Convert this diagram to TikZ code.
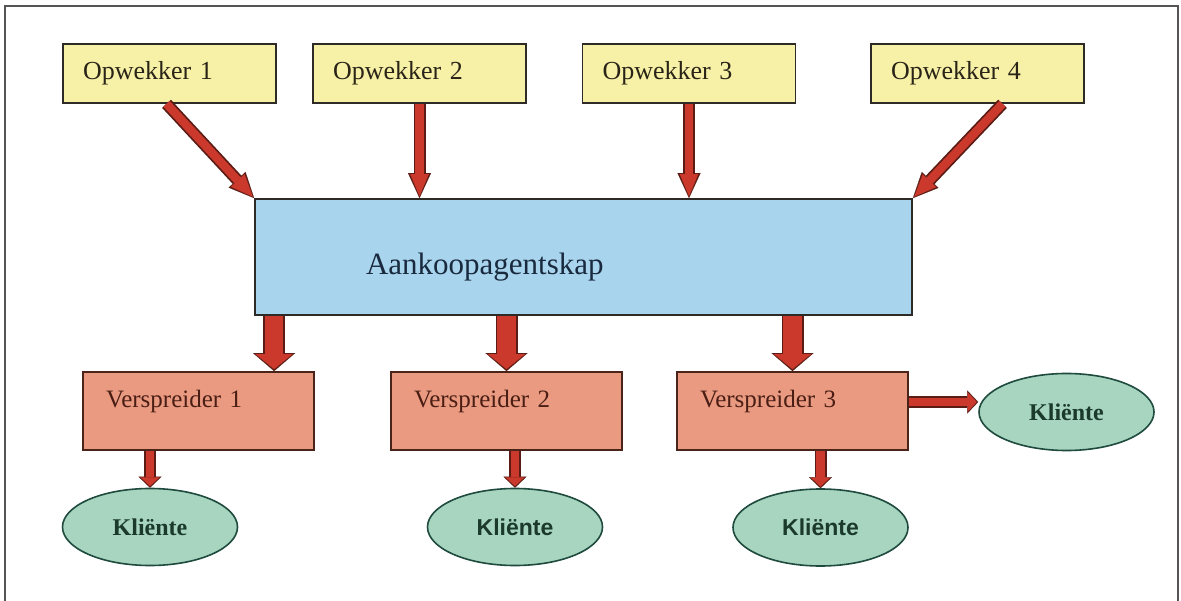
\documentclass[tikz,border=0pt]{standalone}
\usepackage{fontspec}
\setmainfont{Liberation Serif}
\newfontfamily\klsansfont{Liberation Sans}
\usetikzlibrary{arrows.meta,positioning,shapes.geometric}
\definecolor{opyellow}{HTML}{F6F1A6}
\definecolor{agblue}{HTML}{A9D4EE}
\definecolor{vsalmon}{HTML}{EA9A80}
\definecolor{klgreen}{HTML}{A7D5C0}
\definecolor{kldark}{HTML}{1F4A3E}
\definecolor{boxline}{HTML}{2E2A26}
\definecolor{vline}{HTML}{4A2418}
\definecolor{arrowred}{HTML}{CB392C}
\definecolor{arrowdark}{HTML}{5A1C14}
\definecolor{framegray}{HTML}{555555}
\definecolor{optext}{HTML}{2A2418}
\definecolor{agtext}{HTML}{1A2A3E}
\definecolor{vtext}{HTML}{4A1E14}
\definecolor{kltext}{HTML}{1B3A2C}

\begin{document}
\begin{tikzpicture}[x=1pt,y=-1pt,
  opbox/.style={draw=boxline,fill=opyellow,line width=1.6pt,minimum width=213pt,minimum height=59pt,text width=173pt,inner xsep=20pt,inner ysep=0pt,align=left,text=optext,font=\fontsize{26}{30}\selectfont},
  agbox/.style={draw=boxline,fill=agblue,line width=1.8pt,minimum width=657pt,text width=435pt,inner xsep=111pt,inner ysep=0pt,text height=76pt,text depth=40pt,align=left,text=agtext,font=\fontsize{31}{36}\selectfont},
  vbox/.style={draw=vline,fill=vsalmon,line width=1.8pt,minimum width=231pt,text width=185pt,inner xsep=23pt,inner ysep=0pt,text height=36pt,text depth=42pt,align=left,text=vtext,font=\fontsize{25}{30}\selectfont},
  klnode/.style={ellipse,draw=kldark,fill=klgreen,line width=1.6pt,minimum width=175pt,minimum height=77pt,inner sep=0pt,text=kltext,font=\bfseries\fontsize{24}{28}\selectfont},
  klsf/.style={klnode,font=\klsansfont\bfseries\fontsize{23}{28}\selectfont},
  toparrow/.style={draw=arrowdark,line width=12pt,-{Triangle[length=25pt,width=23pt,line width=0.1pt]},
    postaction={draw=arrowred,line width=8.5pt,shorten >=2pt,-{Triangle[length=22pt,width=18.5pt,line width=0.1pt]}}},
  bigarrow/.style={draw=arrowdark,line width=22pt,-{Triangle[length=18pt,width=42pt,line width=0.1pt]},
    postaction={draw=arrowred,line width=18.5pt,shorten >=2pt,-{Triangle[length=15pt,width=37pt,line width=0.1pt]}}},
  smallarrow/.style={draw=arrowdark,line width=12pt,-{Triangle[length=11pt,width=23pt,line width=0.1pt]},
    postaction={draw=arrowred,line width=8.5pt,shorten >=1.5pt,-{Triangle[length=9pt,width=19pt,line width=0.1pt]}}}]
  \useasboundingbox (0,0) rectangle (1181,601);
  \draw[framegray,line width=2pt] (5,601) -- (5,6) -- (1178,6) -- (1178,601);
  % producers
  \node[opbox] (op1) at (169.5,73.5) {Opwekker 1};
  \node[opbox] (op2) at (419.5,73.5) {Opwekker 2};
  \node[opbox] (op3) at (689,73.5) {Opwekker 3};
  \node[opbox] (op4) at (977.5,73.5) {Opwekker 4};
  \node[agbox] (agent) at (583.5,257) {Aankoopagentskap};
  % distributors and clients
  \node[vbox] (v1) at (198.5,411) {Verspreider 1};
  \node[vbox] (v2) at (506.5,411) {Verspreider 2};
  \node[vbox] (v3) at (792.5,411) {Verspreider 3};
  \node[klnode] (k1) at (150,527) {Kliënte};
  \node[klsf] (k2) at (515,527) {Kliënte};
  \node[klsf] (k3) at (820.5,527.5) {Kliënte};
  \node[klnode] (k4) at (1066.5,412) {Kliënte};
  \draw[toparrow] ([xshift=-3pt]op1.south) -- (agent.north west);
  \draw[toparrow] (op2.south) -- (op2.south |- agent.north);
  \draw[toparrow] (op3.south) -- (op3.south |- agent.north);
  \draw[toparrow] ([xshift=25pt]op4.south) -- (agent.north east);
  \draw[bigarrow] ([xshift=20pt]agent.south west) -- ([xshift=20pt]agent.south west |- v1.north);
  \draw[bigarrow] (v2.north |- agent.south) -- (v2.north);
  \draw[bigarrow] (v3.north |- agent.south) -- (v3.north);
  \draw[smallarrow] (k1.north |- v1.south) -- (k1.north);
  \draw[smallarrow] (k2.north |- v2.south) -- (k2.north);
  \draw[smallarrow] (k3.north |- v3.south) -- (k3.north);
  \draw[smallarrow] ([yshift=9pt]v3.east) -- ([yshift=9pt]v3.east -| k4.west);
\end{tikzpicture}
\end{document}
